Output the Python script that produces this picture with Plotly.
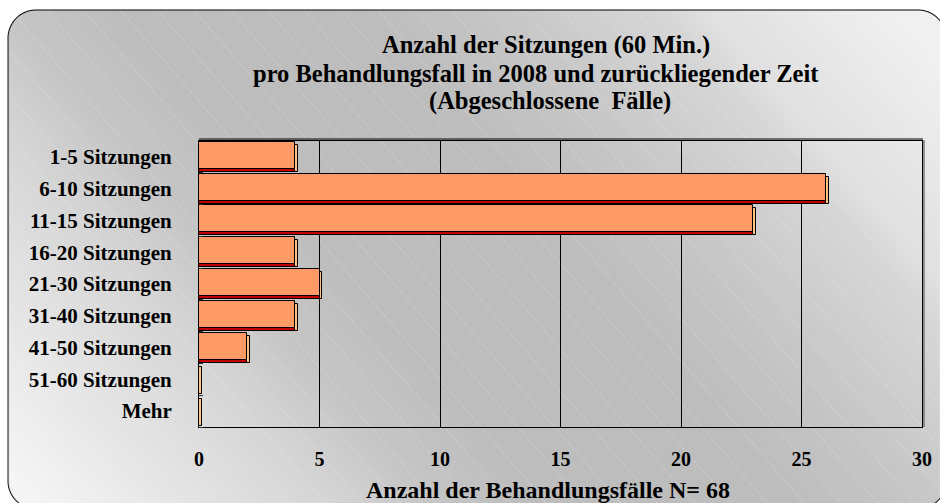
import base64, struct, zlib
import numpy as np
import plotly.graph_objects as go

# ---------------- data ----------------
categories = ["1-5 Sitzungen", "6-10 Sitzungen", "11-15 Sitzungen", "16-20 Sitzungen",
              "21-30 Sitzungen", "31-40 Sitzungen", "41-50 Sitzungen", "51-60 Sitzungen", "Mehr"]
cases = [4, 26, 23, 4, 5, 4, 2, 0, 0]
x_ticks = [0, 5, 10, 15, 20, 25, 30]
title_lines = ["Anzahl der Sitzungen (60 Min.)",
               "pro Behandlungsfall in 2008 und zurückliegender Zeit",
               "(Abgeschlossene&nbsp; Fälle)"]
x_title = "Anzahl der Behandlungsfälle N= 68"

# ---------------- geometry ----------------
W, H = 944, 503
ML, MR, MT, MB = 199, 18, 141, 76
PW, PH = W - ML - MR, H - MT - MB

def px(xp):
    return (xp - ML) / PW

def py(yp):
    return (MT + PH - yp) / PH

# ---------------- background image (gradient, stripes, rounded border) ----------------
yy, xx = np.mgrid[0:H, 0:W].astype(float)
xc, yc = xx + 0.5, yy + 0.5
t = xc - 0.87 * yc
tp = [-400, -111, -5, 100, 350, 480, 663, 693, 883, 1000]
vp = [245, 214, 198, 190, 189, 198, 216, 224, 240, 245]
g = np.interp(t, tp, vp)
# thin white diagonal stripes
period = 37.0
ph = np.mod(t, period)
dist = np.minimum(ph, period - ph)
stripe = np.clip(1.0 - dist / 0.8, 0, 1) * 0.25
g = g * (1 - stripe) + 255 * stripe
# rounded rectangle sdf
x0, y0, x1, y1, r = 7.0, 10.0, 950.0, 509.0, 28.0
cx, cy = (x0 + x1) / 2, (y0 + y1) / 2
bx, by = (x1 - x0) / 2, (y1 - y0) / 2
qx = np.abs(xc - cx) - (bx - r)
qy = np.abs(yc - cy) - (by - r)
d = np.sqrt(np.maximum(qx, 0) ** 2 + np.maximum(qy, 0) ** 2) + np.minimum(np.maximum(qx, qy), 0) - r
inside = np.clip(0.5 - d, 0, 1)
img = g * inside + 255 * (1 - inside)
edge = np.clip(1.0 - np.abs(d) / 1.0, 0, 1)
img = img * (1 - edge)
arr = np.repeat(np.clip(img, 0, 255).astype(np.uint8)[:, :, None], 3, axis=2)

def png_bytes(a):
    h, w, _ = a.shape
    raw = b"".join(b"\x00" + a[i].tobytes() for i in range(h))
    def chunk(tag, data):
        return struct.pack(">I", len(data)) + tag + data + struct.pack(">I", zlib.crc32(tag + data) & 0xffffffff)
    return (b"\x89PNG\r\n\x1a\n" + chunk(b"IHDR", struct.pack(">IIBBBBB", w, h, 8, 2, 0, 0, 0))
            + chunk(b"IDAT", zlib.compress(raw, 9)) + chunk(b"IEND", b""))

bg_src = "data:image/png;base64," + base64.b64encode(png_bytes(arr)).decode()

# ---------------- bars (3D look) ----------------
pos = list(range(len(categories)))
bar_w = 0.85
depth_x = 3 * (x_ticks[-1] - x_ticks[0]) / PW
depth_y = 3 / (PH / len(categories))
y_front = [p - depth_y / 2 for p in pos]
y_back = [p + depth_y / 2 for p in pos]

FONT = "Liberation Serif, Times New Roman, serif"

fig = go.Figure()
fig.add_trace(go.Bar(y=y_back, x=cases, orientation="h", width=bar_w,
                     marker=dict(color="#C00000", line=dict(color="black", width=1)),
                     hoverinfo="skip", showlegend=False))
fig.add_trace(go.Bar(y=y_back, x=[depth_x] * len(cases), base=cases, orientation="h", width=bar_w,
                     marker=dict(color="#FFC080", line=dict(color="black", width=1)),
                     hoverinfo="skip", showlegend=False))
fig.add_trace(go.Bar(y=y_front, x=cases, orientation="h", width=bar_w,
                     marker=dict(color="#FF9966", line=dict(color="black", width=1)),
                     customdata=categories, hovertemplate="%{customdata}: %{x}<extra></extra>",
                     showlegend=False))

annotations = []
for txt, cxp, cyp in zip(title_lines, [548, 538, 552], [45, 73, 101]):
    annotations.append(dict(text=txt, x=px(cxp), y=py(cyp), xref="paper", yref="paper",
                            xanchor="center", yanchor="middle", showarrow=False,
                            font=dict(family=FONT, size=24.5, color="black", weight="bold")))
annotations.append(dict(text=x_title, x=px(550), y=py(490), xref="paper", yref="paper",
                        xanchor="center", yanchor="middle", showarrow=False,
                        font=dict(family=FONT, size=24, color="black", weight="bold")))

shapes = [
    # top edge of the 3D wall (double line)
    dict(type="line", xref="paper", yref="paper", x0=0, x1=1 + 1 / PW, y0=1 + 2 / PH, y1=1 + 2 / PH,
         line=dict(color="black", width=1)),
    # right shadow of wall
    dict(type="line", xref="paper", yref="paper", x0=1 + 2 / PW, x1=1 + 2 / PW, y0=0, y1=1 + 1 / PH,
         line=dict(color="#777777", width=1.5)),
]

fig.update_layout(
    width=W, height=H,
    margin=dict(l=ML, r=MR, t=MT, b=MB),
    paper_bgcolor="white", plot_bgcolor="rgba(0,0,0,0)",
    barmode="overlay", bargap=0,
    images=[dict(source=bg_src, xref="paper", yref="paper", x=px(0), y=py(0),
                 sizex=W / PW, sizey=H / PH, sizing="stretch", xanchor="left", yanchor="top",
                 layer="below")],
    annotations=annotations, shapes=shapes,
    font=dict(family=FONT, color="black"),
    xaxis=dict(range=[x_ticks[0], x_ticks[-1]], tickvals=x_ticks, ticktext=[str(v) for v in x_ticks],
               showgrid=True, gridcolor="black", gridwidth=1, zeroline=False,
               showline=True, linecolor="black", linewidth=1, mirror=True, ticks="",
               ticklabelstandoff=14,
               tickfont=dict(family=FONT, size=20, color="black", weight="bold")),
    yaxis=dict(range=[len(categories) - 0.5, -0.5], tickvals=pos, ticktext=categories,
               showgrid=False, zeroline=False, showline=True, linecolor="black", linewidth=1,
               mirror=True, ticks="", ticklabelstandoff=22,
               minor=dict(tickvals=[p + 0.5 for p in pos], ticks="inside", ticklen=4, tickcolor="#333333"),
               tickfont=dict(family=FONT, size=21, color="black", weight="bold")),
)

fig.write_html("out.html", config={"displayModeBar": False},
               post_script="document.body.style.margin='0';document.body.style.overflow='hidden';")
